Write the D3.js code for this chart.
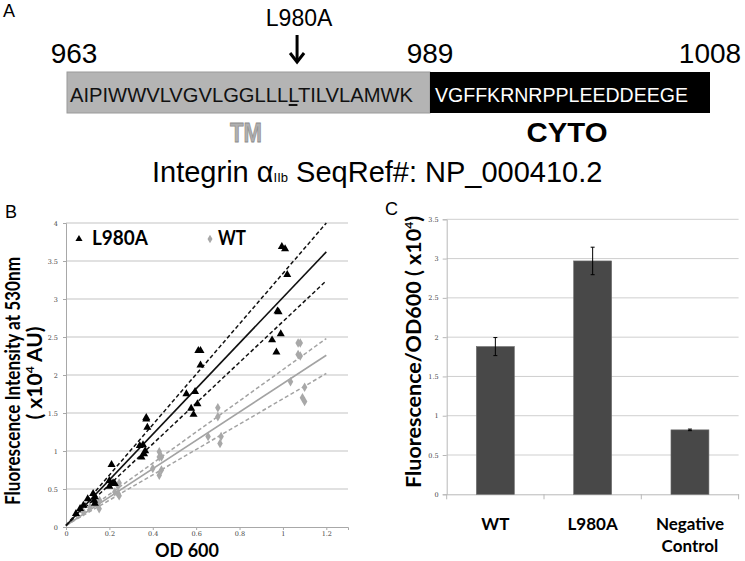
<!DOCTYPE html>
<html><head><meta charset="utf-8">
<script src="https://cdn.jsdelivr.net/npm/d3@7"></script>
<style>body{margin:0;background:#fff}</style>
</head><body>
<svg id="c" width="745" height="561" xmlns="http://www.w3.org/2000/svg"></svg>
<script>
// ---------- DATA ----------
const tmSeq = "AIPIWWVLVGVLGGLLLLTILVLAMWK";   // residues 963-989
const cytoSeq = "VGFFKRNRPPLEEDDEEGE";          // residues 990-1008
const residueLabels = [963, 989, 1008];
const mutationLabel = "L980A";
const mutationIndex = 17;                        // L980 in tmSeq
const domainLabels = ["TM", "CYTO"];

const odTicks = [0, 0.2, 0.4, 0.6, 0.8, 1, 1.2];
const fluorTicks = [0, 0.5, 1, 1.5, 2, 2.5, 3, 3.5, 4];
const l980aPoints = [
  [0.995,3.69],[1.01,3.66],[1.02,3.32],[0.975,2.84],[0.98,2.83],[0.95,2.46],[0.99,2.54],[0.97,2.30],
  [0.61,2.32],[0.62,2.32],[0.62,2.13],[0.555,1.75],[0.595,1.78],[0.577,1.56],[0.588,1.48],[0.606,1.62],
  [0.37,1.44],[0.37,1.42],[0.375,1.31],[0.34,1.07],[0.355,1.08],[0.348,0.92],[0.36,0.96],[0.365,1.0],
  [0.21,0.82],[0.2,0.61],[0.217,0.58],[0.2,0.535],[0.225,0.57],[0.133,0.395],[0.13,0.35],[0.133,0.31],
  [0.125,0.44],[0.1,0.37],[0.08,0.285],[0.065,0.24],[0.046,0.175]
];
const wtPoints = [
  [1.07,2.42],[1.08,2.42],[1.07,2.27],[1.08,2.25],[1.035,1.91],[1.10,1.84],[1.09,1.70],[1.10,1.65],
  [0.70,1.57],[0.70,1.45],[0.655,1.19],[0.715,1.19],[0.71,1.10],[0.43,0.99],[0.43,0.92],[0.44,0.92],
  [0.40,0.77],[0.44,0.75],[0.43,0.68],[0.245,0.58],[0.24,0.535],[0.225,0.46],[0.24,0.44],[0.245,0.41],
  [0.155,0.35],[0.14,0.31],[0.148,0.285],[0.153,0.24],[0.11,0.26],[0.08,0.20]
];
const fitEndOD = 1.2;
const fitIntercept = 0.02;
const l980aFit = [4.0, 3.62, 3.24];   // upper CI, fit, lower CI at OD 1.2
const wtFit = [2.48, 2.26, 2.02];

const barCategories = ["WT", "L980A", "Negative Control"];
const barValues = [1.88, 2.97, 0.82];
const barErrors = [0.115, 0.175, 0.01];
const barTicks = [0, 0.5, 1, 1.5, 2, 2.5, 3, 3.5];

// ---------- DRAW ----------
const svg = d3.select("#c");
const arial = "'Liberation Sans', Arial, sans-serif";
const cal = "Lato, 'Open Sans', sans-serif";
const grid = "#c4c4c4";

// ===== Panel A =====
const rx = d3.scaleLinear().domain([963, 990, 1009]).range([67, 430, 710]);
svg.append("text").attr("x", 3).attr("y", 17).attr("font-family", arial).attr("font-size", 18).text("A");
svg.selectAll(".reslab").data(residueLabels).join("text")
  .attr("x", (d, i) => (i === 0 ? rx(d) + 7 : i === 1 ? rx(990) : rx(1009)))
  .attr("y", 63).attr("text-anchor", "middle").attr("font-family", arial).attr("font-size", 28)
  .text(d => d);
svg.append("rect").attr("x", rx(963)).attr("y", 72).attr("width", rx(990) - rx(963)).attr("height", 41)
  .attr("fill", "#b4b4b4").attr("stroke", "#9a9a9a").attr("stroke-width", 1);
svg.append("rect").attr("x", rx(990)).attr("y", 72).attr("width", rx(1009) - rx(990)).attr("height", 41)
  .attr("fill", "#000");
const tmText = svg.append("text").attr("x", 70).attr("y", 102).attr("font-family", arial)
  .attr("font-size", 21).attr("fill", "#111").attr("textLength", 343).attr("lengthAdjust", "spacingAndGlyphs")
  .text(tmSeq);
svg.append("text").attr("x", 435).attr("y", 102).attr("font-family", arial)
  .attr("font-size", 21).attr("fill", "#fff").attr("textLength", 253).attr("lengthAdjust", "spacingAndGlyphs")
  .text(cytoSeq);
let ext;
try { ext = tmText.node().getExtentOfChar(mutationIndex); } catch (e) { ext = {x: 288, width: 11}; }
const mx = ext.x + ext.width / 2;
svg.append("line").attr("x1", ext.x + 0.5).attr("x2", ext.x + ext.width - 0.5).attr("y1", 105).attr("y2", 105)
  .attr("stroke", "#111").attr("stroke-width", 2);
svg.append("text").attr("x", mx + 6).attr("y", 26).attr("text-anchor", "middle").attr("font-family", arial)
  .attr("font-size", 23).text(mutationLabel);
svg.append("line").attr("x1", mx + 4).attr("x2", mx + 4).attr("y1", 35).attr("y2", 62).attr("stroke", "#000").attr("stroke-width", 3);
svg.append("path").attr("d", `M${mx - 3},53 L${mx + 4},62 L${mx + 11},53`).attr("fill", "none").attr("stroke", "#000").attr("stroke-width", 3);
svg.append("text").attr("x", 246).attr("y", 142).attr("text-anchor", "middle").attr("font-family", arial)
  .attr("font-size", 28).attr("font-weight", "bold").attr("fill", "#b0b0b0").attr("stroke", "#8c8c8c").attr("stroke-width", 0.8)
  .attr("textLength", 32).attr("lengthAdjust", "spacingAndGlyphs").text(domainLabels[0]);
svg.append("text").attr("x", 567).attr("y", 142).attr("text-anchor", "middle").attr("font-family", arial)
  .attr("font-size", 28).attr("font-weight", "bold").attr("fill", "#000")
  .attr("textLength", 81).attr("lengthAdjust", "spacingAndGlyphs").text(domainLabels[1]);
const ttl = svg.append("text").attr("x", 152).attr("y", 182).attr("font-family", arial).attr("font-size", 29);
ttl.append("tspan").text("Integrin α");
ttl.append("tspan").attr("font-size", 13).text("IIb");
ttl.append("tspan").text(" SeqRef#: NP_000410.2");

// ===== Panel B =====
svg.append("text").attr("x", 5).attr("y", 218).attr("font-family", arial).attr("font-size", 18).text("B");
const bx = d3.scaleLinear().domain([0, 1.3]).range([66, 348]);
const by = d3.scaleLinear().domain([0, 4]).range([527, 223]);
const gB = svg.append("g");
gB.selectAll(".gl").data(fluorTicks.slice(1)).join("line")
  .attr("x1", bx(0)).attr("x2", bx(1.3)).attr("y1", d => by(d)).attr("y2", d => by(d))
  .attr("stroke", grid).attr("stroke-width", 1.2);
const axBy = svg.append("g").attr("transform", `translate(${bx(0)},0)`)
  .call(d3.axisLeft(by).tickValues(fluorTicks).tickSize(3).tickFormat(d3.format("")));
const axBx = svg.append("g").attr("transform", `translate(0,${by(0)})`)
  .call(d3.axisBottom(bx).tickValues(odTicks).tickSize(3).tickPadding(1).tickFormat(d3.format("")));
[axBy, axBx].forEach(a => {
  a.select(".domain").attr("stroke", "#a8a8a8");
  a.selectAll(".tick line").attr("stroke", "#a8a8a8");
  a.selectAll("text").attr("font-family", "'DejaVu Serif', serif").attr("font-size", 6.5).attr("fill", "#444");
});
axBy.selectAll("text").attr("dx", "-2");
// fit lines
const fitLine = (v) => [[0, fitIntercept], [fitEndOD, v]];
const lineGen = d3.line().x(d => bx(d[0])).y(d => by(d[1]));
function drawFits(vals, col) {
  vals.forEach((v, i) => {
    svg.append("path").attr("d", lineGen(fitLine(v))).attr("fill", "none").attr("stroke", col)
      .attr("stroke-width", i === 1 ? 1.6 : 1.5).attr("stroke-dasharray", i === 1 ? null : "4,2.5");
  });
}
drawFits(wtFit, "#a3a3a3");
drawFits(l980aFit, "#111");
svg.append("g").selectAll("path").data(wtPoints).join("path")
  .attr("d", d3.symbol(d3.symbolDiamond, 26)).attr("transform", d => `translate(${bx(d[0])},${by(d[1])})`)
  .attr("fill", "#a8a8a8");
svg.append("g").selectAll("path").data(l980aPoints).join("path")
  .attr("d", d3.symbol(d3.symbolTriangle, 28)).attr("transform", d => `translate(${bx(d[0])},${by(d[1])})`)
  .attr("fill", "#000");
// legend
svg.append("path").attr("d", d3.symbol(d3.symbolTriangle, 22)).attr("transform", "translate(79,239)").attr("fill", "#000");
svg.append("text").attr("x", 92).attr("y", 245).attr("font-family", cal).attr("font-weight", "bold")
  .attr("font-size", 21).attr("textLength", 56).attr("lengthAdjust", "spacingAndGlyphs").text("L980A");
svg.append("path").attr("d", d3.symbol(d3.symbolDiamond, 22)).attr("transform", "translate(210,239)").attr("fill", "#a8a8a8");
svg.append("text").attr("x", 218).attr("y", 245).attr("font-family", cal).attr("font-weight", "bold")
  .attr("font-size", 21).attr("textLength", 28).attr("lengthAdjust", "spacingAndGlyphs").text("WT");
// axis titles
svg.append("text").attr("transform", "translate(20,381) rotate(-90)").attr("text-anchor", "middle")
  .attr("font-family", cal).attr("font-weight", "bold").attr("font-size", 20)
  .attr("textLength", 248).attr("lengthAdjust", "spacingAndGlyphs").text("Fluorescence Intensity at 530nm");
const yl2 = svg.append("text").attr("transform", "translate(42,373) rotate(-90)").attr("text-anchor", "middle")
  .attr("font-family", cal).attr("font-weight", "bold").attr("font-size", 21);
yl2.append("tspan").text("( x10");
yl2.append("tspan").attr("font-size", 12).attr("dy", -8).text("4");
yl2.append("tspan").attr("dy", 8).text(" AU)");
svg.append("text").attr("x", 187).attr("y", 557).attr("text-anchor", "middle")
  .attr("font-family", cal).attr("font-weight", "bold").attr("font-size", 18).text("OD 600");

// ===== Panel C =====
svg.append("text").attr("x", 385).attr("y", 215).attr("font-family", arial).attr("font-size", 18).text("C");
const cx = d3.scaleBand().domain(barCategories).range([446.7, 738.6]).paddingInner(0.61).paddingOuter(0.305);
const cy = d3.scaleLinear().domain([0, 3.5]).range([494.3, 219.3]);
svg.append("g").selectAll("line").data(barTicks.slice(1)).join("line")
  .attr("x1", 446.7).attr("x2", 738.6).attr("y1", d => cy(d)).attr("y2", d => cy(d))
  .attr("stroke", "#cfcfcf").attr("stroke-width", 1);
const axCy = svg.append("g").attr("transform", "translate(446.7,0)")
  .call(d3.axisLeft(cy).tickValues(barTicks).tickSize(4).tickFormat(d3.format("")));
axCy.select(".domain").attr("stroke", "#b8b8b8");
axCy.selectAll(".tick line").attr("stroke", "#b8b8b8");
axCy.selectAll("text").attr("font-family", "'DejaVu Serif', serif").attr("font-size", 6.5).attr("fill", "#444").attr("dx", "-1");
const axCx = svg.append("g").attr("transform", `translate(0,${cy(0)})`)
  .call(d3.axisBottom(cx).tickSize(0).tickFormat(""));
axCx.select(".domain").attr("stroke", "#b8b8b8");
const bounds = [446.7].concat(barCategories.map(c => cx(c) + cx.bandwidth() / 2 + cx.step() / 2));
svg.append("g").selectAll("line").data(bounds).join("line")
  .attr("x1", d => d).attr("x2", d => d).attr("y1", cy(0)).attr("y2", cy(0) + 5).attr("stroke", "#b8b8b8");
svg.append("g").selectAll("rect").data(barCategories).join("rect")
  .attr("x", d => cx(d)).attr("width", cx.bandwidth())
  .attr("y", (d, i) => cy(barValues[i])).attr("height", (d, i) => cy(0) - cy(barValues[i]))
  .attr("fill", "#484848").attr("stroke", "#6a6a6a").attr("stroke-width", 0.6);
const eb = svg.append("g");
barCategories.forEach((c, i) => {
  const xm = cx(c) + cx.bandwidth() / 2, t = cy(barValues[i] + barErrors[i]), b = cy(barValues[i] - barErrors[i]);
  eb.append("line").attr("x1", xm).attr("x2", xm).attr("y1", t).attr("y2", b).attr("stroke", "#000").attr("stroke-width", 1);
  eb.append("line").attr("x1", xm - 2).attr("x2", xm + 2).attr("y1", t).attr("y2", t).attr("stroke", "#000").attr("stroke-width", 1);
  eb.append("line").attr("x1", xm - 2).attr("x2", xm + 2).attr("y1", b).attr("y2", b).attr("stroke", "#000").attr("stroke-width", 1);
});
barCategories.forEach((c, i) => {
  const xm = cx(c) + cx.bandwidth() / 2;
  const words = c.split(" ");
  words.forEach((w, j) => {
    svg.append("text").attr("x", xm).attr("y", 530 + j * 22).attr("text-anchor", "middle")
      .attr("font-family", cal).attr("font-weight", "bold").attr("font-size", 17).text(w);
  });
});
const ylc = svg.append("text").attr("transform", "translate(421,352) rotate(-90)").attr("text-anchor", "middle")
  .attr("font-family", cal).attr("font-weight", "bold").attr("font-size", 21.5);
ylc.append("tspan").text("Fluorescence/OD600 ( x10");
ylc.append("tspan").attr("font-size", 12).attr("dy", -8).text("4");
ylc.append("tspan").attr("dy", 8).text(")");
</script>
</body></html>
